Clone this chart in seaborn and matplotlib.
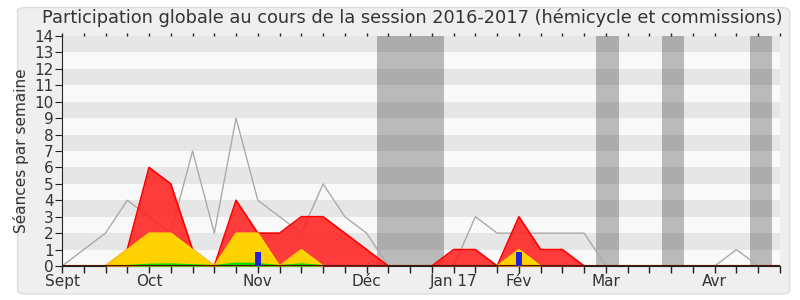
import numpy as np
import pandas as pd
import matplotlib
matplotlib.use("Agg")
import matplotlib.pyplot as plt
import seaborn as sns
from matplotlib.patches import FancyBboxPatch

weeks = list(range(34))
total = [0, 0, 0, 1, 6, 5, 1, 0, 4, 2, 2, 3, 3, 2, 1, 0, 0, 0, 1, 1, 0, 3, 1, 1, 0,
         0, 0, 0, 0, 0, 0, 0, 0, 0]
hemicycle = [0, 0, 0, 1, 2, 2, 1, 0, 2, 2, 0, 1, 0, 0, 0, 0, 0, 0, 0, 0, 0, 1, 0, 0, 0,
             0, 0, 0, 0, 0, 0, 0, 0, 0]
green = [0, 0, 0, 0, 0.08, 0.1, 0.05, 0, 0.15, 0.12, 0, 0.1, 0, 0, 0, 0, 0, 0, 0, 0, 0, 0, 0, 0, 0,
         0, 0, 0, 0, 0, 0, 0, 0, 0]
median_line = [0, 1, 2, 4, 3, 2, 7, 2, 9, 4, 3, 2, 5, 3, 2, 0, 0, 0, 0, 3, 2, 2, 2, 2, 2,
               0, 0, 0, 0, 0, 0, 1, 0, 0]
bar_weeks = [9, 21]
bar_values = [0.85, 0.85]
vacations = [(14.5, 17.55), (24.53, 25.58), (27.57, 28.59), (31.6, 32.64)]
tick_pos = [0, 4, 9, 14, 18, 21, 25, 30]
tick_labels = ["Sept", "Oct", "Nov", "Déc", "Jan 17", "Fév", "Mar", "Avr"]
title = "Participation globale au cours de la session 2016-2017 (hémicycle et commissions)"
ylabel = "Séances par semaine"

sns.set_style("white")
plt.rcParams["font.family"] = ["DejaVu Sans"]
txt = "#333333"

fig = plt.figure(figsize=(8, 3), dpi=100)
fig.patch.set_facecolor("white")
bg = FancyBboxPatch((0.022, 0.02), 0.965, 0.955, boxstyle="round,pad=0,rounding_size=0.012",
                    transform=fig.transFigure, facecolor="#efefef", edgecolor="#dddddd",
                    linewidth=1, zorder=-10)
fig.patches.append(bg)

ax = fig.add_axes([0.0775, 0.1133, 0.8975, 0.7667])
ax.set_xlim(0, 33)
ax.set_ylim(0, 14)
ax.set_facecolor("#f9f9f9")
for k in range(1, 14, 2):
    ax.axhspan(k, k + 1, color="#e6e6e6", zorder=0, lw=0)
for a, b in vacations:
    ax.axvspan(a, b, color="black", alpha=0.25, zorder=1, lw=0)

df = pd.DataFrame({"week": weeks, "total": total, "hemi": hemicycle,
                   "green": green, "median": median_line})

sns.lineplot(data=df, x="week", y="median", ax=ax, color="#aaaaaa", lw=1, zorder=2)
ax.fill_between(df["week"], df["total"], color="#ff2222", alpha=0.88, lw=0, zorder=3)
sns.lineplot(data=df, x="week", y="total", ax=ax, color="#ff0000", lw=1.2, zorder=4)
ax.fill_between(df["week"], df["hemi"], color="#ffd700", alpha=0.97, lw=0, zorder=5)
sns.lineplot(data=df, x="week", y="hemi", ax=ax, color="#ffe400", lw=1, zorder=6)
ax.fill_between(df["week"], df["green"], color="#00ee00", lw=0, zorder=7)
sns.lineplot(data=df, x="week", y="green", ax=ax, color="#00dd00", lw=1.5, zorder=7)
ax.axhline(0, color="#551100", lw=1.5, zorder=8)
ax.bar(bar_weeks, bar_values, width=0.3, color="#2222dd", edgecolor="none", lw=0, zorder=9)

ax.set_xticks(range(34), minor=True)
ax.set_xticks(tick_pos)
ax.set_xticklabels(tick_labels, color=txt, fontsize=11)
ax.set_yticks(range(15))
ax.set_yticklabels([str(i) for i in range(15)], color=txt, fontsize=11)
ax.tick_params(axis="x", which="both", top=True, bottom=True, color="#222222", width=1, pad=1)
ax.tick_params(axis="x", which="both", labeltop=False)
ax.tick_params(axis="y", left=True, length=5, color="#222222", pad=1)
ax.xaxis.set_tick_params(which="both", length=5)
for t in ax.xaxis.get_major_ticks() + ax.xaxis.get_minor_ticks():
    t.tick2line.set_markersize(2)
ax.set_xlabel("")
ax.set_ylabel(ylabel, color=txt, fontsize=11, labelpad=4)
for s in ["top", "right"]:
    ax.spines[s].set_visible(False)
ax.spines["left"].set_color("#222222")
ax.spines["bottom"].set_color("#222222")
ax.grid(False)
fig.text(0.515, 0.94, title, color=txt, fontsize=12.8, ha="center", va="center")

fig.savefig("out.png", dpi=100)
